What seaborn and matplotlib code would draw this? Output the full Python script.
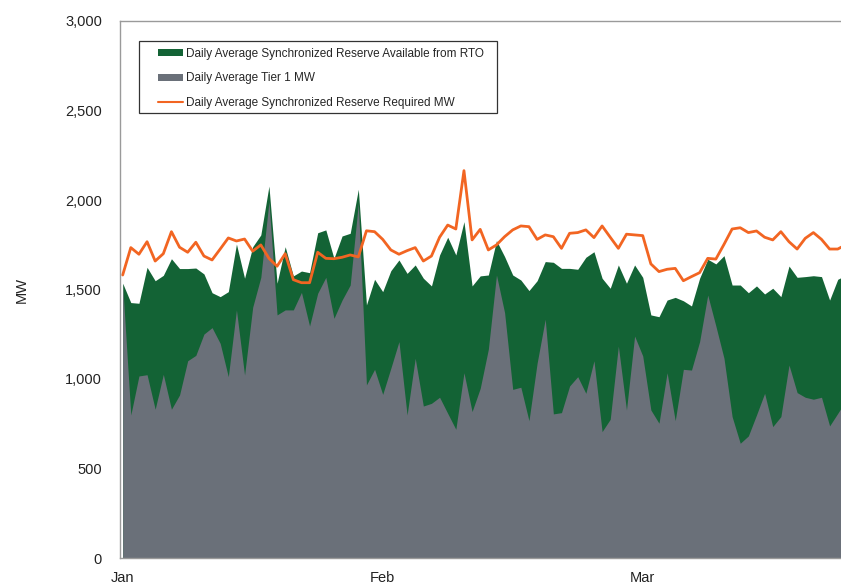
import numpy as np
import seaborn as sns
import matplotlib.pyplot as plt
from matplotlib.patches import Patch, Rectangle
from matplotlib.lines import Line2D

# daily values, Jan 1 .. Mar 31
available = [1535, 1427, 1423, 1624, 1549, 1579, 1672, 1617, 1617, 1620,
             1587, 1482, 1460, 1488, 1754, 1563, 1739, 1805, 2078, 1535,
             1739, 1576, 1603, 1594, 1817, 1833, 1674, 1799, 1814, 2060,
             1414, 1557, 1488, 1605, 1665, 1590, 1637, 1563, 1520, 1693,
             1792, 1693, 1879, 1520, 1576, 1581, 1773, 1684, 1581, 1553,
             1494, 1549, 1656, 1652, 1618, 1618, 1613, 1680, 1711, 1563,
             1507, 1637, 1535, 1637, 1568, 1358, 1348, 1441, 1456, 1437,
             1408, 1563, 1669, 1643, 1689, 1525, 1525, 1482, 1520, 1475,
             1507, 1460, 1631, 1568, 1572, 1577, 1572, 1441, 1557, 1580]
tier1 = [1525, 799, 1017, 1024, 831, 1026, 831, 911, 1102, 1132,
         1251, 1287, 1199, 1013, 1386, 1022, 1401, 1568, 1991, 1358,
         1386, 1386, 1484, 1296, 1479, 1568, 1339, 1441, 1525, 1982,
         967, 1054, 914, 1060, 1209, 799, 1116, 849, 864, 898,
         808, 719, 1035, 818, 948, 1166, 1581, 1371, 942, 954,
         767, 1088, 1334, 805, 812, 961, 1013, 920, 1102, 706,
         775, 1184, 827, 1240, 1129, 827, 753, 1035, 767, 1054,
         1050, 1209, 1469, 1296, 1116, 790, 641, 682, 799, 920,
         734, 790, 1078, 924, 898, 887, 898, 738, 808, 880]
required = [1581, 1734, 1697, 1767, 1659, 1700, 1823, 1736, 1708, 1764,
            1687, 1665, 1726, 1788, 1771, 1782, 1714, 1749, 1674, 1630,
            1700, 1555, 1538, 1538, 1708, 1674, 1672, 1680, 1693, 1682,
            1828, 1823, 1780, 1721, 1697, 1717, 1734, 1659, 1687, 1792,
            1860, 1838, 2164, 1777, 1836, 1721, 1749, 1795, 1833, 1855,
            1851, 1780, 1805, 1795, 1730, 1814, 1818, 1833, 1790, 1855,
            1792, 1730, 1809, 1805, 1801, 1643, 1600, 1613, 1618, 1549,
            1572, 1594, 1674, 1670, 1752, 1838, 1845, 1818, 1827, 1792,
            1777, 1823, 1767, 1726, 1786, 1818, 1780, 1726, 1726, 1750]
month_labels = ['Jan', 'Feb', 'Mar']
month_ticks = [0, 32, 64]
days = np.arange(len(required))

green = '#136335'
gray = '#6a7079'
orange = '#f26522'

sns.set_style('white')
plt.rcParams['font.family'] = ['Liberation Sans', 'DejaVu Sans']

W, H = 841, 588
fig = plt.figure(figsize=(W / 100, H / 100), dpi=100)
ax = fig.add_axes([120 / W, 30 / H, 721 / W, 537 / H])

ax.fill_between(days, 0, available, color=green, lw=0)
ax.fill_between(days, 0, tier1, color=gray, lw=0)
sns.lineplot(x=days, y=required, color=orange, lw=2, ax=ax, legend=False)

ax.set_xlim(-0.33, 88.4)
ax.set_ylim(0, 3000)
ax.set_yticks(range(0, 3001, 500))
ax.set_yticklabels([f'{v:,}' for v in range(0, 3001, 500)])
ax.set_xticks(month_ticks)
ax.set_xticklabels(month_labels)
ax.tick_params(axis='both', length=0, labelsize=10.5, colors='#222222')
ax.tick_params(axis='y', pad=13)
ax.tick_params(axis='x', pad=9)
ax.set_xlabel('')
ax.set_ylabel('')
for side in ['left', 'top', 'bottom']:
    ax.spines[side].set_color('#9a9a9a')
    ax.spines[side].set_linewidth(1)
ax.spines['right'].set_visible(False)

fig.text(22 / W, 1 - 290 / H, 'MW', rotation=90, ha='center', va='center',
         fontsize=10.5, color='#222222')

# legend box drawn separately so the inner padding matches
handles = [Patch(facecolor=green, edgecolor='none'),
           Patch(facecolor=gray, edgecolor='none'),
           Line2D([0], [0], color=orange, lw=1.5)]
names = ['Daily Average Synchronized Reserve Available from RTO',
         'Daily Average Tier 1 MW',
         'Daily Average Synchronized Reserve Required MW']
ax.legend(handles, names, loc='upper left',
          bbox_to_anchor=((158 - 120) / 721, (558 - 48) / 537),
          borderaxespad=0, borderpad=0, fontsize=8.5, frameon=False,
          handlelength=2.1, handleheight=0.5, handletextpad=0.3,
          labelspacing=1.05)
fig.patches.append(Rectangle((139 / W, 1 - 113 / H), (497 - 139) / W, 72 / H,
                             transform=fig.transFigure, fill=False,
                             edgecolor='#333333', lw=0.9, zorder=5))

fig.savefig('out.png', dpi=100)
